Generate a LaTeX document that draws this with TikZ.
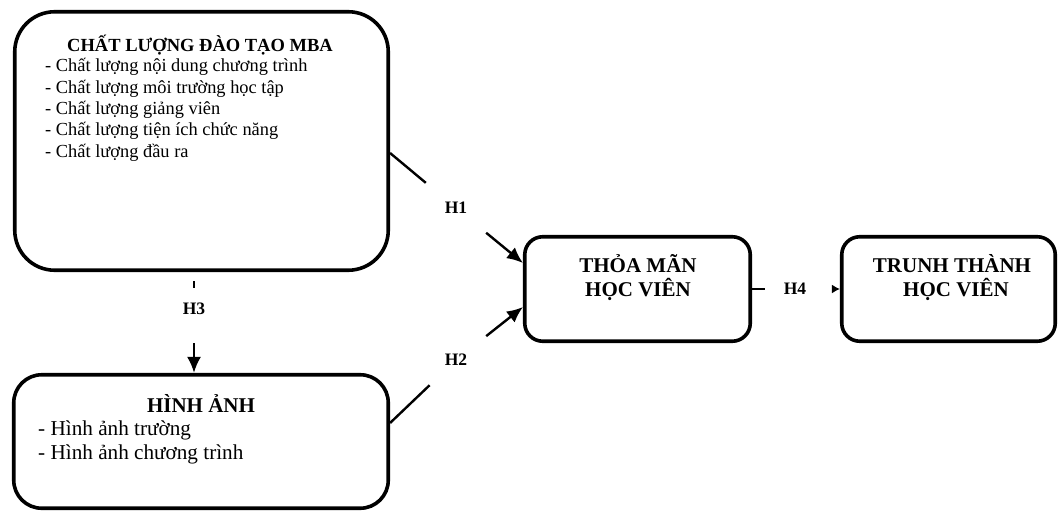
\documentclass[tikz,border=0pt]{standalone}
\usepackage{fontspec}
\setmainfont{Liberation Serif}
\usepackage{tikz}
\usetikzlibrary{arrows.meta}
\tikzset{
  box/.style={draw, line width=3.6pt, rectangle, inner sep=0pt},
  boxtitle/.style={font=\bfseries\fontsize{21}{24}\selectfont, inner sep=0pt, anchor=base},
  item/.style={font=\fontsize{18.4}{21}\selectfont, inner sep=0pt, anchor=base west},
  hyp/.style={font=\bfseries\fontsize{17.5}{20}\selectfont, minimum width=60pt, minimum height=50pt, inner sep=0pt},
  link/.style={line width=2.4pt},
  bigtip/.style={-{Latex[length=16pt,width=14pt]}},
  smalltip/.style={-{Latex[length=8pt,width=9pt]}},
}

\begin{document}
\begin{tikzpicture}[x=1pt,y=-1pt]
\useasboundingbox (0,0) rectangle (1059,513);

\node[box, rounded corners=40pt, minimum width=373.5pt, minimum height=258.5pt] (cl) at (201.5,141) {};
\node[box, rounded corners=28pt, minimum width=374.5pt, minimum height=133.5pt] (ha) at (201,441.5) {};
\node[box, rounded corners=18pt, minimum width=225.5pt, minimum height=104.5pt] (tm) at (637.5,289) {};
\node[box, rounded corners=18pt, minimum width=213.5pt, minimum height=104.5pt] (tt) at (948.5,289) {};

\node[boxtitle, font=\bfseries\fontsize{18.5}{21}\selectfont] (cltitle) at (200,52) {CHẤT LƯỢNG ĐÀO TẠO MBA};
\foreach \txt [count=\i] in {- Chất lượng nội dung chương trình,
                             - Chất lượng môi trường học tập,
                             - Chất lượng giảng viên,
                             - Chất lượng tiện ích chức năng,
                             - Chất lượng đầu ra}{
    \node[item] (cl\i) at (45,{71.7+21.4*(\i-1)}) {\txt};
}

\node[boxtitle] (hatitle) at (201,412) {HÌNH ẢNH};
\foreach \txt [count=\i] in {- Hình ảnh trường, - Hình ảnh chương trình}{
    \node[item, font=\fontsize{21.2}{24}\selectfont] (ha\i) at (38,{435+24*(\i-1)}) {\txt};
}

\node[boxtitle] (tm1) at (638,272) {THỎA MÃN};
\node[boxtitle] (tm2) at (638,296) {HỌC VIÊN};
\node[boxtitle] (tt1) at (952,272) {TRUNH THÀNH};
\node[boxtitle] (tt2) at (956,296) {HỌC VIÊN};

\node[hyp] (h1) at (456,208) {H1};
\node[hyp] (h2) at (456,360) {H2};
\node[hyp] (h3) at (194,309) {H3};
\node[hyp] (h4) at (795,289) {H4};

\draw[link] ([yshift=-12pt]cl.east) -- (h1);
\draw[link, bigtip] (h1) -- ([yshift=26pt]tm.west);
\draw[link] ([yshift=18.5pt]ha.east) -- (h2);
\draw[link, bigtip] (h2) -- ([yshift=-18pt]tm.west);
\draw[link, shorten <=9pt] (cl.south -| h3) -- ([yshift=-4pt]h3.north);
\draw[link, bigtip, shorten <=9pt] (h3) -- (ha.north -| h3);
\draw[link] (tm.east) -- (h4);
\draw[link, smalltip, shorten <=8pt] (h4) -- (tt.west);

\end{tikzpicture}
\end{document}
